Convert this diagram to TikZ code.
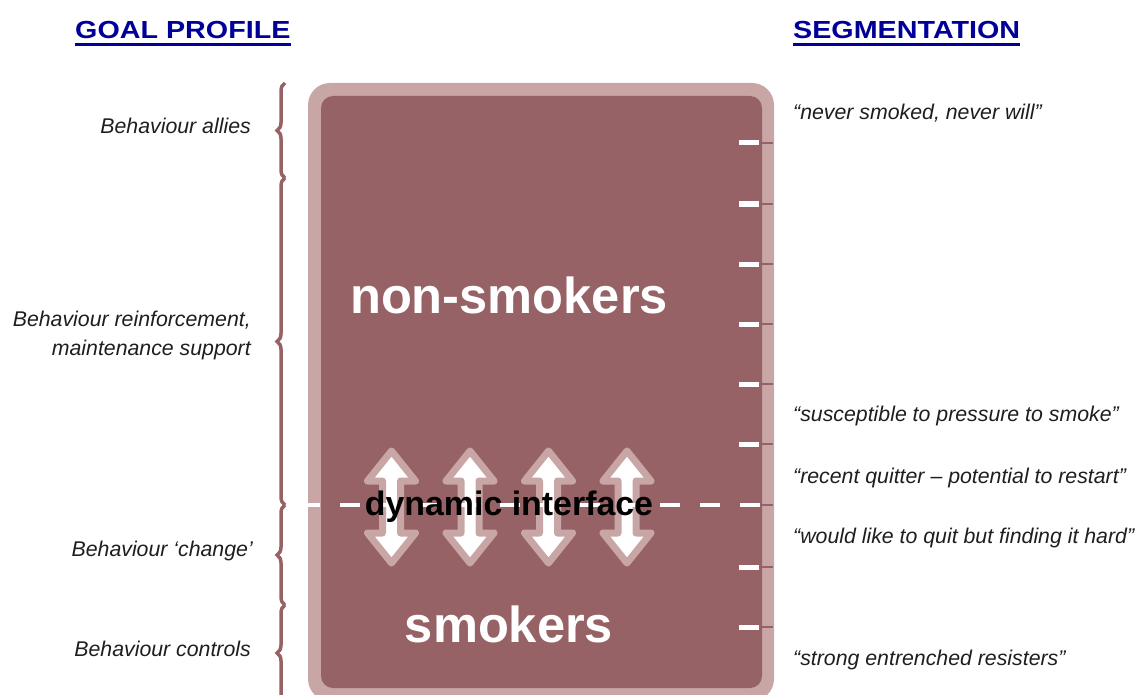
\documentclass[tikz,border=0pt]{standalone}
\usepackage{fontspec}
\setmainfont{Liberation Sans}
\usetikzlibrary{decorations.pathreplacing}

\definecolor{boxdark}{RGB}{151,98,102}
\definecolor{boxlight}{RGB}{201,166,166}
\definecolor{titleblue}{RGB}{0,0,153}
\definecolor{labelgray}{RGB}{30,30,30}

\begin{document}
\begin{tikzpicture}[x=1pt,y=-1pt,
  title/.style={font=\fontsize{28.7}{34}\selectfont\bfseries, text=titleblue,
    inner sep=0pt, anchor=base west, yscale=0.86, transform shape},
  titleline/.style={draw=titleblue, line width=3pt},
  goal/.style={font=\fontsize{21.3}{29}\selectfont\itshape, text=labelgray,
    inner sep=0pt, anchor=base east, align=right},
  segment/.style={font=\fontsize{21.3}{29}\selectfont\itshape, text=labelgray,
    inner sep=0pt, anchor=base west},
  bigword/.style={font=\fontsize{50.6}{60}\selectfont\bfseries, text=white,
    inner sep=0pt, anchor=base},
  iface/.style={font=\fontsize{33.9}{40}\selectfont\bfseries, text=black,
    inner sep=0pt, anchor=base},
  groupbrace/.style={draw=boxdark, line width=3.5pt, decorate,
    decoration={brace, amplitude=8pt}},
  flowarrow/.style={draw=boxlight, fill=white, line width=7pt, line join=round},
  scalemark/.style={draw=white, line width=5pt},
  scaletick/.style={draw=boxdark, line width=2pt},
  interface/.style={draw=white, line width=4.5pt, dash pattern=on 20pt off 20pt}
]
\useasboundingbox (0,0) rectangle (1137,695);

% population box: light rim with dark body
\fill[boxlight, rounded corners=22pt] (308,83) rectangle (774,701);
\fill[boxdark, rounded corners=12pt] (321,96) rectangle (762,688);

% segmentation scale on the right edge
\foreach \y in {143,204,264,324,384,444,505,567,627} {
  \coordinate (m\y a) at (739,\y);
  \coordinate (m\y b) at (759,\y);
  \coordinate (m\y c) at (773,\y);
  \draw[scaletick] (m\y b) -- (m\y c);
}
\foreach \y in {143,204,264,324,384,444,567,627} {
  \draw[scalemark] (m\y a) -- (m\y b);
}

% two-way movement arrows across the interface
\foreach \c/\n in {391.5/1,470/2,548.5/3,627/4} {
  \draw[flowarrow] (\c,451) -- (\c+24,481) -- (\c+9,481) -- (\c+9,533)
    -- (\c+24,533) -- (\c,563) -- (\c-24,533) -- (\c-9,533) -- (\c-9,481)
    -- (\c-24,481) -- cycle;
  \coordinate (arrow\n) at (\c,507);
}

% dashed interface line
\coordinate (ifaceL) at (300,505);
\coordinate (ifaceR) at (760,505);
\draw[interface] (ifaceL) -- (ifaceR);

% big labels inside the box
\node[bigword] (nonsmokers) at (509,313) {non-smokers};
\node[bigword] (smokers) at (509,642) {smokers};
\node[iface] (dyn) at (509,515) {dynamic interface};

% column titles
\node[title] (goaltitle) at (75,39) {GOAL PROFILE};
\draw[titleline] ([yshift=-6pt]goaltitle.base west) -- ([yshift=-6pt]goaltitle.base east);
\node[title] (segtitle) at (793,39) {SEGMENTATION};
\draw[titleline] ([yshift=-6pt]segtitle.base west) -- ([yshift=-6pt]segtitle.base east);

% goal profile braces
\coordinate (b0) at (285,83);
\coordinate (b1) at (285,178);
\coordinate (b2) at (285,505);
\coordinate (b3) at (285,605);
\coordinate (b4) at (285,701);
\draw[groupbrace] (b1) -- (b0);
\draw[groupbrace] (b2) -- (b1);
\draw[groupbrace] (b3) -- (b2);
\draw[groupbrace] (b4) -- (b3);

% goal profile labels
\node[goal] (allies) at (251,133.3) {Behaviour allies};
\node[goal] (reinforce) at (251,326) {Behaviour reinforcement,};
\node[goal] (maintain) at (251,355) {maintenance support};
\node[goal] (change) at (253,556.7) {Behaviour ‘change’};
\node[goal] (controls) at (251,656.7) {Behaviour controls};

% segmentation labels
\node[segment] (never) at (793,120) {“never smoked, never will”};
\node[segment] (suscept) at (793,421.7) {“susceptible to pressure to smoke”};
\node[segment] (quitter) at (793,483) {“recent quitter – potential to restart”};
\node[segment] (wouldquit) at (793,543) {“would like to quit but finding it hard”};
\node[segment] (resisters) at (793,665.7) {“strong entrenched resisters”};
\end{tikzpicture}
\end{document}
